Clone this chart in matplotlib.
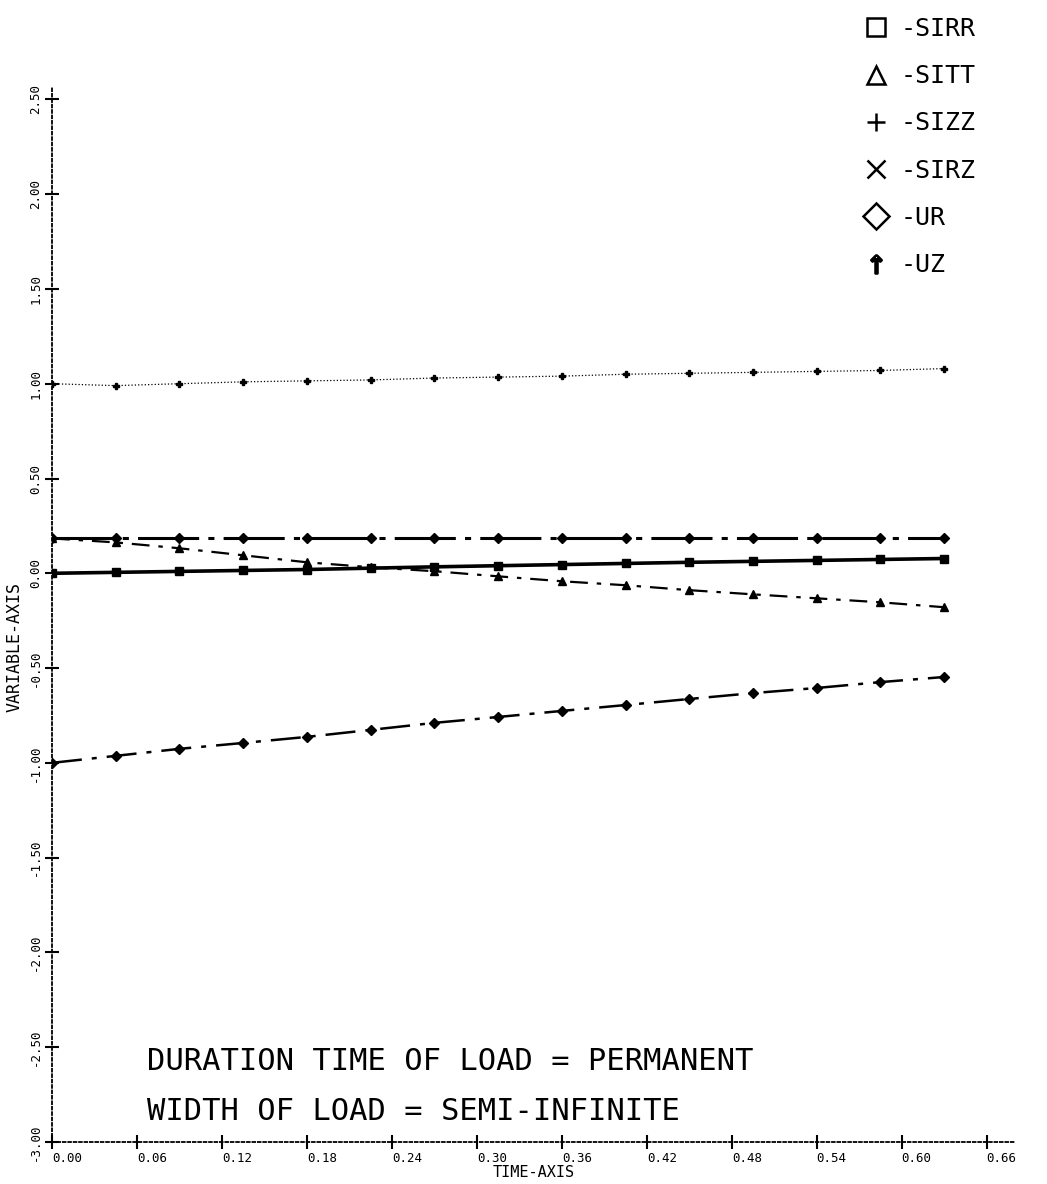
import matplotlib
matplotlib.use('Agg')
import numpy as np
import matplotlib.pyplot as plt
from matplotlib.lines import Line2D

# time steps of the run (15 output points)
time = [0.000, 0.045, 0.090, 0.135, 0.180, 0.225, 0.270, 0.315,
        0.360, 0.405, 0.450, 0.495, 0.540, 0.585, 0.630]

# values
sirr = [0.000, 0.005, 0.010, 0.015, 0.020, 0.027, 0.034, 0.040,
        0.046, 0.052, 0.058, 0.063, 0.068, 0.073, 0.078]
sitt = [0.184, 0.163, 0.132, 0.095, 0.058, 0.032, 0.011, -0.016,
        -0.042, -0.063, -0.089, -0.111, -0.132, -0.153, -0.179]
sizz = [1.000, 0.990, 1.000, 1.010, 1.015, 1.020, 1.030, 1.035,
        1.040, 1.050, 1.055, 1.060, 1.065, 1.070, 1.080]
ur = [-1.000, -0.963, -0.926, -0.895, -0.863, -0.826, -0.789, -0.758,
      -0.726, -0.695, -0.663, -0.632, -0.605, -0.574, -0.547]
uz = [0.184, 0.184, 0.184, 0.184, 0.184, 0.184, 0.184, 0.184,
      0.184, 0.184, 0.184, 0.184, 0.184, 0.184, 0.184]

legend_names = ['-SIRR', '-SITT', '-SIZZ', '-SIRZ', '-UR', '-UZ']
legend_markers = ['s', '^', '+', 'x', 'D', r'$\uparrow$']

x_ticks = [0.00, 0.06, 0.12, 0.18, 0.24, 0.30, 0.36, 0.42, 0.48, 0.54, 0.60, 0.66]
y_ticks = [-3.0, -2.5, -2.0, -1.5, -1.0, -0.5, 0.0, 0.5, 1.0, 1.5, 2.0, 2.5]

notes = ['DURATION TIME OF LOAD = PERMANENT', 'WIDTH OF LOAD = SEMI-INFINITE']

W, H = 1047, 1184
fig = plt.figure(figsize=(W / 100, H / 100), dpi=100)
plt.rcParams['font.family'] = ['DejaVu Sans Mono']

# axes box in pixels: origin (52, 1142), right end 1015, top 88
x0, y0, x1, y1 = 52, 1142, 1015, 88
ax = fig.add_axes([x0 / W, 1 - y0 / H, (x1 - x0) / W, (y0 - y1) / H])
ax.set_xlim(0, 0.68)
ax.set_ylim(-3.0, 2.56)

for s in ['top', 'right']:
    ax.spines[s].set_visible(False)
for s in ['left', 'bottom']:
    ax.spines[s].set_linestyle((0, (1.5, 1.5)))
    ax.spines[s].set_linewidth(1.3)

ax.set_xticks(x_ticks)
ax.set_yticks(y_ticks)
ax.set_xticklabels([f'{v:.2f}' for v in x_ticks], fontsize=9, ha='left')
ax.set_yticklabels([f'{v:.2f}' for v in y_ticks], fontsize=9, rotation=90, va='center')
ax.tick_params(direction='inout', length=10, width=1.5, pad=2)
ax.set_xlabel('TIME-AXIS', fontsize=11, labelpad=0)
ax.set_ylabel('VARIABLE-AXIS', fontsize=12, labelpad=2)
ax.yaxis.set_label_coords(-0.030, 0.47)

k = 'black'
ax.plot(time, sizz, linestyle=':', lw=0.9, color=k, marker='P', ms=5)
ax.plot(time, uz, linestyle=(0, (20, 3, 2, 3)), lw=2.2, color=k, marker='D', ms=5)
ax.plot(time, sirr, linestyle='-', lw=2.6, color=k, marker='s', ms=6)
ax.plot(time, sitt, linestyle=(0, (8, 4, 2, 4)), lw=1.6, color=k, marker='^', ms=6)
ax.plot(time, ur, linestyle=(0, (12, 4, 2, 4)), lw=1.8, color=k, marker='D', ms=5)

# legend in the top right corner
handles = [Line2D([], [], linestyle='none', marker=m, color=k, ms=13,
                  markerfacecolor='none', mew=1.8) for m in legend_markers]
fig.legend(handles, legend_names, loc='upper left', bbox_to_anchor=(848 / W, 1 - 2 / H),
           frameon=False, prop={'size': 18}, labelspacing=0.93, borderpad=0.1,
           handlelength=1.0, handletextpad=0.5)

for i, t in enumerate(notes):
    fig.text(147 / W, 1 - (1070 + i * 50) / H, t, fontsize=22, va='baseline')

fig.savefig('out.png', dpi=100)
